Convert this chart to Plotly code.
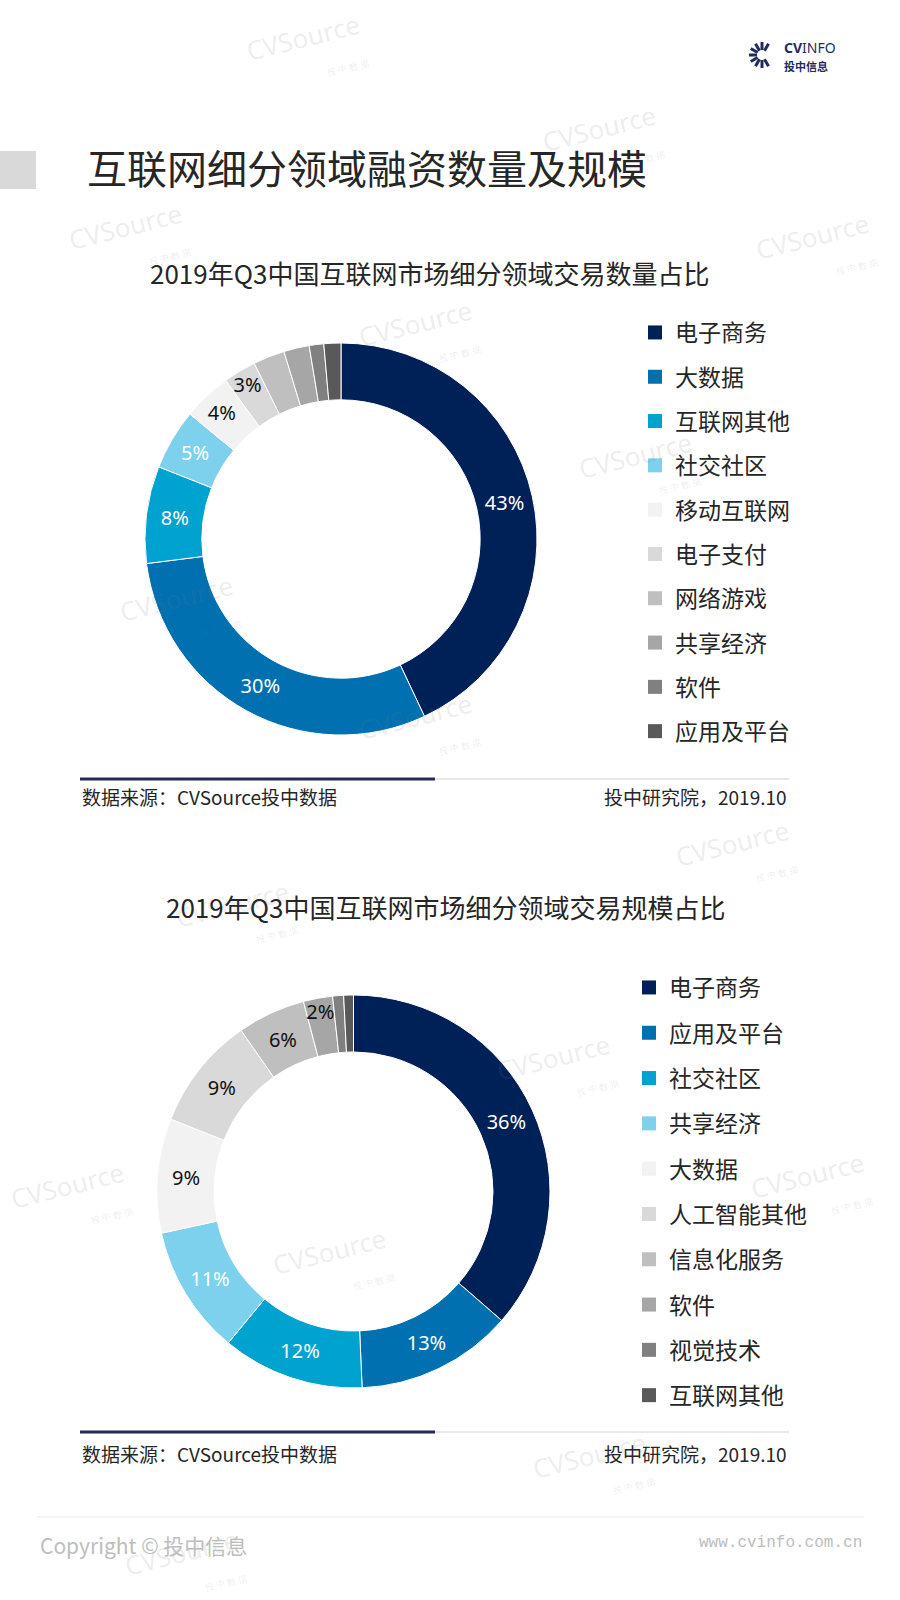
import math
import plotly.graph_objects as go

W, H = 900, 1600

# ---------------- data ----------------
chart1_title = "2019年Q3中国互联网市场细分领域交易数量占比"
cats1 = ["电子商务", "大数据", "互联网其他", "社交社区", "移动互联网",
         "电子支付", "网络游戏", "共享经济", "软件", "应用及平台"]
vals1 = [43, 30, 8, 5, 4, 2.7, 2.6, 2.1, 1.2, 1.4]
text1 = ["43%", "30%", "8%", "5%", "4%", "3%", "", "", "", ""]

chart2_title = "2019年Q3中国互联网市场细分领域交易规模占比"
cats2 = ["电子商务", "应用及平台", "社交社区", "共享经济", "大数据",
         "人工智能其他", "信息化服务", "软件", "视觉技术", "互联网其他"]
vals2 = [36.4, 12.9, 11.7, 10.6, 9.4, 9.3, 5.6, 2.4, 0.9, 0.8]
text2 = ["36%", "13%", "12%", "11%", "9%", "9%", "6%", "2%", "", ""]

palette = ["#002157", "#0070B0", "#00A2CF", "#7DD1EC", "#F2F2F2",
           "#D9D9D9", "#BFBFBF", "#A6A6A6", "#808080", "#595959"]
label_colors = ["white"] * 4 + ["#111111"] * 6

main_title = "互联网细分领域融资数量及规模"
source_left = "数据来源：CVSource投中数据"
source_right = "投中研究院，2019.10"


def px(x):
    return x / W


def py(y):
    return 1 - y / H


CJK = "Noto Sans CJK SC"

fig = go.Figure()

# ---------------- donuts ----------------
pie_common = dict(
    hole=0.71, sort=False, direction="clockwise", rotation=0,
    textinfo="text", textposition="inside", insidetextorientation="horizontal",
    marker=dict(colors=palette, line=dict(color="white", width=1)),
    showlegend=False, hoverinfo="label+percent",
)
fig.add_trace(go.Pie(labels=cats1, values=vals1, text=text1,
                     textfont=dict(family="Noto Sans", size=20, color=label_colors),
                     domain=dict(x=[px(145), px(537)], y=[py(735), py(343)]),
                     **pie_common))
fig.add_trace(go.Pie(labels=cats2, values=vals2, text=text2,
                     textfont=dict(family="Noto Sans", size=20, color=label_colors),
                     domain=dict(x=[px(157), px(550)], y=[py(1388), py(995)]),
                     **pie_common))

# ---------------- legends (entries built from the category lists) ----------------
for i, (c, col) in enumerate(zip(cats1, palette)):
    fig.add_trace(go.Scatter(x=[None], y=[None], mode="markers", name=c,
                             legend="legend", legendgroup="a%d" % i,
                             marker=dict(symbol="square", size=14, color=col),
                             hoverinfo="skip"))
for i, (c, col) in enumerate(zip(cats2, palette)):
    fig.add_trace(go.Scatter(x=[None], y=[None], mode="markers", name=c,
                             legend="legend2", legendgroup="b%d" % i,
                             marker=dict(symbol="square", size=14, color=col),
                             hoverinfo="skip"))

leg_font = dict(family=CJK, size=23, color="#262626")

# ---------------- decorations ----------------
shapes = []
annotations = []

# watermarks first so they sit beneath the other texts
wm_pos = [(306, 52), (602, 143), (128, 240), (815, 250), (418, 337), (638, 469),
          (179, 612), (418, 730), (735, 857), (235, 918), (556, 1071),
          (70, 1199), (810, 1189), (332, 1265), (592, 1469), (184, 1566)]
for (wx, wy) in wm_pos:
    annotations.append(dict(text="CVSource<br><span style='font-size:9px'>投 中 数 据</span>",
                            x=px(wx), y=py(wy), xref="paper", yref="paper",
                            xanchor="center", yanchor="middle", showarrow=False,
                            align="right", textangle=-14,
                            font=dict(family="Noto Sans", size=26,
                                      color="rgba(120,120,120,0.14)")))

# grey block beside main title
shapes.append(dict(type="rect", xref="paper", yref="paper",
                   x0=px(0), x1=px(36), y0=py(189), y1=py(151),
                   fillcolor="#D9D9D9", line=dict(width=0), layer="below"))

annotations.append(dict(text=main_title, x=px(85), y=py(167), xref="paper", yref="paper",
                        xanchor="left", yanchor="middle", showarrow=False,
                        font=dict(family=CJK, size=40, color="#262626")))

# chart titles
annotations.append(dict(text=chart1_title, x=px(429), y=py(272), xref="paper", yref="paper",
                        xanchor="center", yanchor="middle", showarrow=False,
                        font=dict(family=CJK, size=26, color="#262626")))
annotations.append(dict(text=chart2_title, x=px(445), y=py(906), xref="paper", yref="paper",
                        xanchor="center", yanchor="middle", showarrow=False,
                        font=dict(family=CJK, size=26, color="#262626")))

# source lines and texts
for ly, ty in [(779, 797), (1432, 1453)]:
    shapes.append(dict(type="line", xref="paper", yref="paper",
                       x0=px(435), x1=px(789), y0=py(ly), y1=py(ly),
                       line=dict(color="#E8E8E8", width=2)))
    shapes.append(dict(type="line", xref="paper", yref="paper",
                       x0=px(80), x1=px(435), y0=py(ly), y1=py(ly),
                       line=dict(color="#272A55", width=3)))
    annotations.append(dict(text=source_left, x=px(80), y=py(ty), xref="paper", yref="paper",
                            xanchor="left", yanchor="middle", showarrow=False,
                            font=dict(family=CJK, size=19, color="#262626")))
    annotations.append(dict(text=source_right, x=px(789), y=py(ty), xref="paper", yref="paper",
                            xanchor="right", yanchor="middle", showarrow=False,
                            font=dict(family=CJK, size=19, color="#262626")))

# footer
shapes.append(dict(type="line", xref="paper", yref="paper",
                   x0=px(37), x1=px(864), y0=py(1517), y1=py(1517),
                   line=dict(color="#EBEBEB", width=1)))
annotations.append(dict(text="Copyright © 投中信息", x=px(38), y=py(1545), xref="paper", yref="paper",
                        xanchor="left", yanchor="middle", showarrow=False,
                        font=dict(family=CJK, size=21, color="#BDBDBD")))
annotations.append(dict(text="www.cvinfo.com.cn", x=px(864), y=py(1543), xref="paper", yref="paper",
                        xanchor="right", yanchor="middle", showarrow=False,
                        font=dict(family="Liberation Mono", size=16, color="#BDBDBD")))

# logo
logo_cx, logo_cy = 762, 55
for k in range(9):
    ang = math.radians(60 + k * 30)
    shapes.append(dict(type="line", xref="paper", yref="paper",
                       x0=px(logo_cx + 5 * math.cos(ang)), y0=py(logo_cy - 5 * math.sin(ang)),
                       x1=px(logo_cx + 13 * math.cos(ang)), y1=py(logo_cy - 13 * math.sin(ang)),
                       line=dict(color="#1F2D5C", width=3)))
annotations.append(dict(text="<b>CV</b>INFO", x=px(783), y=py(58), xref="paper", yref="paper",
                        xanchor="left", yanchor="bottom", showarrow=False, borderpad=0,
                        font=dict(family="Noto Sans", size=14, color="#1F2D5C")))
annotations.append(dict(text="<b>投中信息</b>", x=px(783), y=py(57), xref="paper", yref="paper",
                        xanchor="left", yanchor="top", showarrow=False, borderpad=0,
                        font=dict(family=CJK, size=11, color="#1F2D5C")))

fig.update_layout(
    width=W, height=H,
    margin=dict(l=0, r=0, t=0, b=0),
    paper_bgcolor="white", plot_bgcolor="white",
    xaxis=dict(visible=False), yaxis=dict(visible=False),
    uniformtext=dict(minsize=20, mode="show"),
    legend=dict(x=px(635), y=py(311), xanchor="left", yanchor="top",
                traceorder="grouped", tracegroupgap=11.4, font=leg_font,
                bgcolor="rgba(0,0,0,0)"),
    legend2=dict(x=px(629), y=py(966), xanchor="left", yanchor="top",
                 traceorder="grouped", tracegroupgap=12.4, font=leg_font,
                 bgcolor="rgba(0,0,0,0)"),
    shapes=shapes, annotations=annotations,
)

fig.write_html("out.html", config={"displayModeBar": False},
               post_script="document.body.style.margin='0';")
